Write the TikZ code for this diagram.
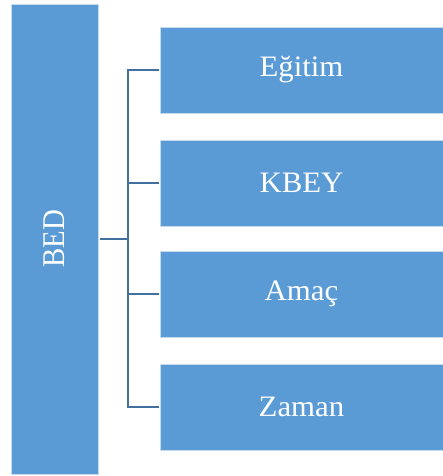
\documentclass[tikz,border=0pt]{standalone}
\usepackage{fontspec}
\setmainfont{Liberation Serif}
\usetikzlibrary{positioning}
\definecolor{boxblue}{HTML}{5B9BD5}
\definecolor{linkblue}{HTML}{41719C}
\definecolor{edgeblue}{HTML}{C5DCF0}

\begin{document}
\begin{tikzpicture}[x=1pt, y=-1pt, line cap=rect,
    box/.style={draw=edgeblue, line width=0.8pt, fill=boxblue, text=white, inner sep=0pt,
      font=\fontsize{27.5}{32}\selectfont},
    part/.style={box, minimum width=283pt, minimum height=86pt},
    link/.style={draw=linkblue, line width=2pt}]
    \useasboundingbox (0,0) rectangle (443,476);
    \node[box, minimum width=87pt, minimum height=470pt] (bed) at (54.5,239)
      {\rotatebox{90}{\scalebox{1.05}[1.15]{BED}}};
    \node[part] (egitim) at (301.5,70) {\scalebox{1.12}[1.08]{Eğitim}};
    \node[part] (kbey) at (301.5,183) {\scalebox{1.12}[1.08]{KBEY}};
    \node[part] (amac) at (301.5,294) {\scalebox{1.12}[1.08]{Amaç}};
    \node[part] (zaman) at (301.5,407) {\scalebox{1.12}[1.08]{Zaman}};
    \coordinate (trunk) at (128,239);
    \draw[link, shorten <=3pt] (bed.east |- trunk) -- (trunk);
    \foreach \n in {egitim, kbey, amac, zaman}
      \draw[link, shorten >=2pt] (trunk) |- (\n.west);
\end{tikzpicture}
\end{document}
